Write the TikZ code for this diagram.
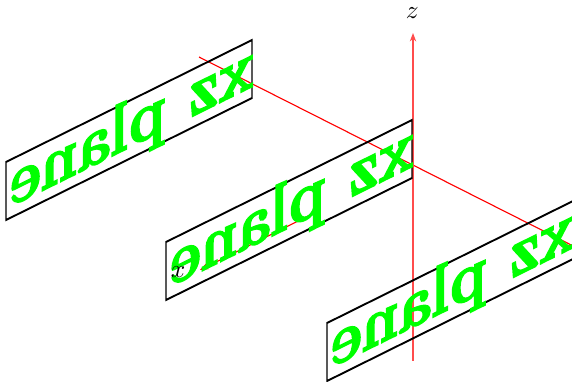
\documentclass[tikz,border=0pt]{standalone}
\usepackage{amsmath,amssymb}
\usepackage{fontspec}
\usepackage{xcolor}
\usepackage{tikz}
\usetikzlibrary{arrows.meta}
\newfontfamily\planefont[BoldFeatures={FakeBold=2.5}]{Latin Modern Roman}
\tikzset{
  axisline/.style={draw=red, line width=0.8pt},
  axisarrow/.style={axisline, -{Stealth[length=6pt,width=4.5pt,fill=red]}},
  planebox/.style={draw=black, line width=0.75pt},
  planelabel/.style={
    text=green, inner sep=0pt, xscale=4.14, yscale=2.5, transform shape,
    font=\planefont\bfseries
  },
  axislabel/.style={scale=1.8, transform shape, inner sep=0pt},
}

\begin{document}
\begin{tikzpicture}
  \useasboundingbox (0,0) rectangle (14.3,9.525);
  % axes
  \coordinate (ystart) at (4.975,8.1);
  \coordinate (yend) at (14.3,3.39);
  \coordinate (xstart) at (7.8,4.175);
  \coordinate (xend) at (5,2.775);
  \coordinate (zstart) at (10.325,0.51);
  \coordinate (zend) at (10.325,8.7);
  \draw[axisline] (ystart) -- (yend);
  \draw[axisarrow] (xstart) -- (xend);
  \draw[axisarrow, draw=red!70, line width=1pt] (zstart) -- (zend);
  % the three planes
  \foreach \i/\px/\py in {1/6.3/7.075, 2/10.3/5.075, 3/14.325/3.05} {
    \begin{scope}[transform canvas={cm={-1,-0.496,0,2,(\px,\py)}}]
      \draw[planebox] (0,0) rectangle (6.15,0.725);
      \node[planelabel] (label\i) at (3,0.36) {xz plane};
    \end{scope}
  }
  % axis names
  \node[axislabel] (zname) at (10.31,9.19) {$z$};
  \node[axislabel] (xname) at (4.45,2.725) {$x$};
\end{tikzpicture}
\end{document}
